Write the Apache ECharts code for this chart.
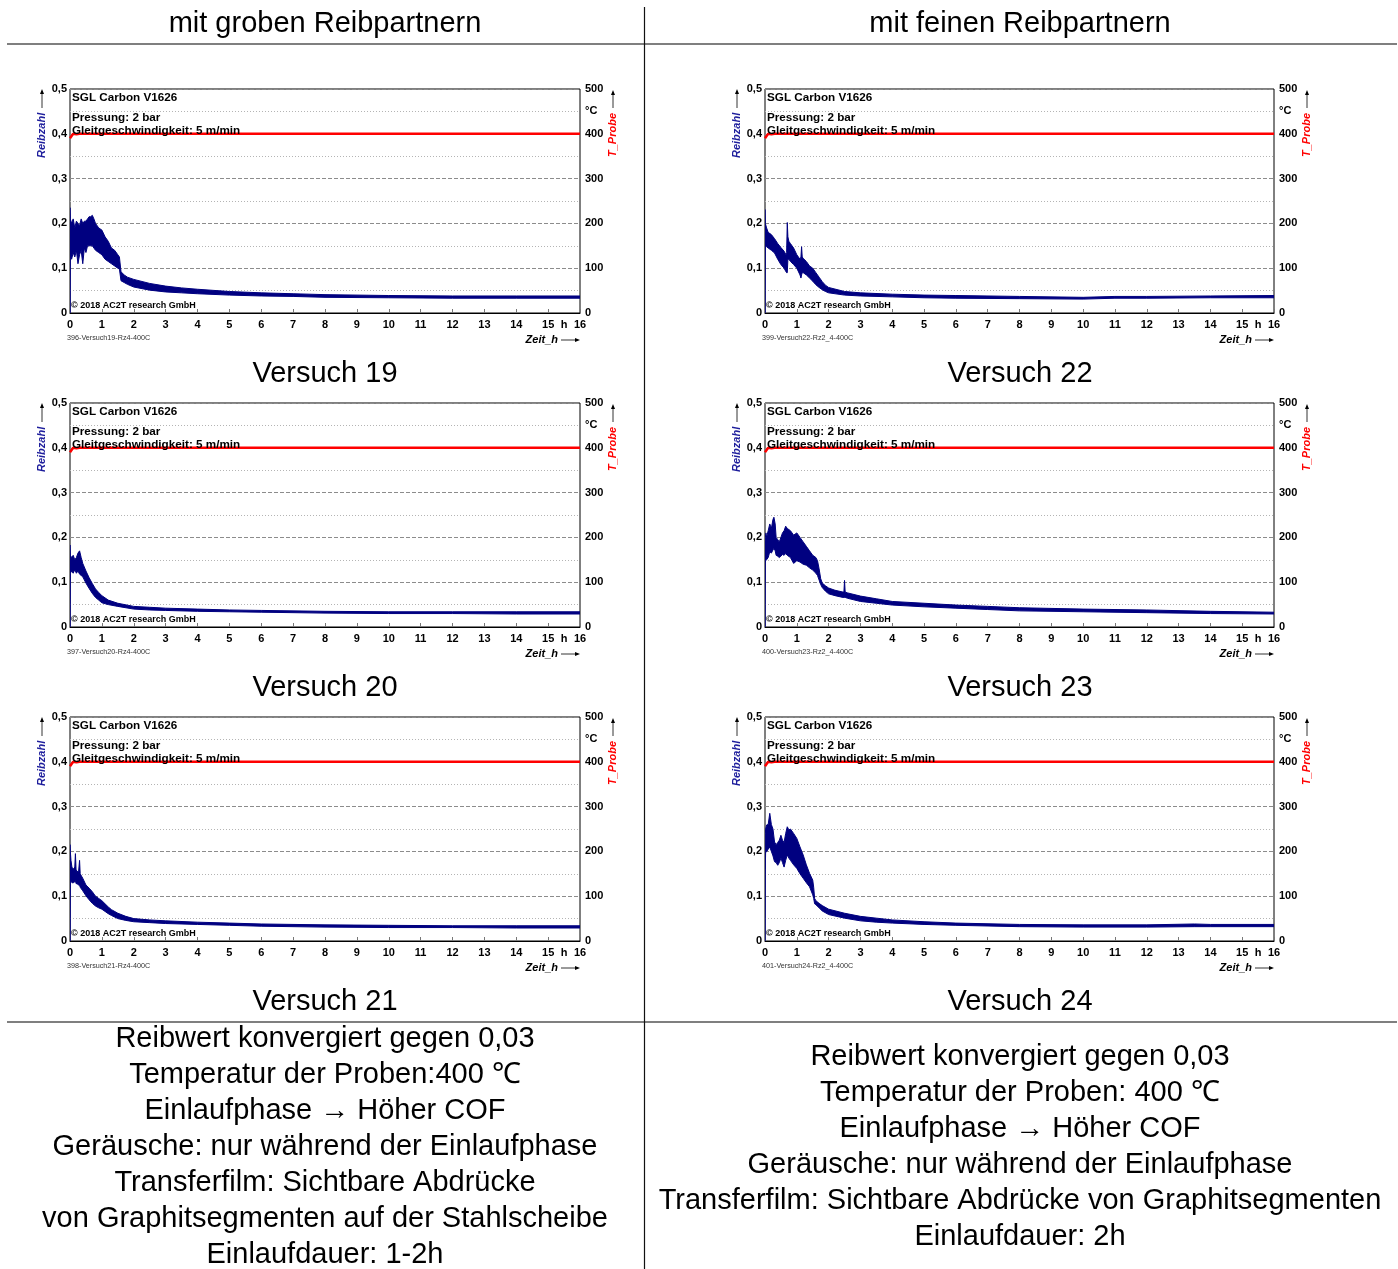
<!DOCTYPE html>
<html>
<head>
<meta charset="utf-8">
<title>Reibversuche V1626 bei 400 °C</title>
<script src="https://cdn.jsdelivr.net/npm/echarts@6/dist/echarts.min.js"></script>
<style>
  html, body { margin: 0; padding: 0; background: #fff; }
  #chart { width: 1398px; height: 1269px; }
</style>
</head>
<body>
<div id="chart"></div>
<script>
// ---- Messdaten: Reibzahl-Einhüllende (oben/unten) über Zeit in h ----
const v19_t  = [0, 0.01, 0.05, 0.1, 0.15, 0.2, 0.25, 0.3, 0.35, 0.4, 0.45, 0.5, 0.55, 0.6, 0.65, 0.7, 0.75, 0.8, 0.9, 1.0, 1.1, 1.2, 1.3, 1.4, 1.5, 1.55, 1.6, 1.7, 1.8, 2.0, 2.5, 3, 3.5, 4, 5, 6, 7, 8, 10, 12, 14, 16];
const v19_hi = [0.235, 0.21, 0.2, 0.21, 0.19, 0.205, 0.2, 0.195, 0.21, 0.2, 0.205, 0.205, 0.21, 0.215, 0.215, 0.218, 0.21, 0.2, 0.19, 0.185, 0.17, 0.16, 0.145, 0.14, 0.13, 0.125, 0.092, 0.085, 0.08, 0.075, 0.066, 0.06, 0.056, 0.053, 0.048, 0.045, 0.043, 0.041, 0.039, 0.038, 0.038, 0.038];
const v19_lo = [0, 0.13, 0.12, 0.135, 0.125, 0.14, 0.11, 0.13, 0.14, 0.11, 0.145, 0.135, 0.15, 0.15, 0.15, 0.15, 0.145, 0.14, 0.135, 0.13, 0.12, 0.115, 0.11, 0.105, 0.1, 0.098, 0.072, 0.068, 0.064, 0.058, 0.051, 0.047, 0.045, 0.043, 0.040, 0.038, 0.037, 0.035, 0.034, 0.033, 0.033, 0.033];

const v22_t  = [0, 0.01, 0.05, 0.1, 0.2, 0.3, 0.4, 0.5, 0.6, 0.66, 0.68, 0.7, 0.72, 0.75, 0.8, 0.9, 1.0, 1.1, 1.13, 1.15, 1.17, 1.2, 1.3, 1.4, 1.5, 1.6, 1.7, 1.8, 1.9, 2.0, 2.5, 3, 4, 5, 6, 8, 10, 11, 12, 14, 16];
const v22_hi = [0.231, 0.2, 0.19, 0.18, 0.175, 0.166, 0.155, 0.146, 0.138, 0.13, 0.135, 0.202, 0.17, 0.16, 0.155, 0.145, 0.13, 0.12, 0.125, 0.148, 0.125, 0.122, 0.115, 0.105, 0.1, 0.09, 0.08, 0.07, 0.062, 0.057, 0.048, 0.045, 0.042, 0.04, 0.039, 0.037, 0.035, 0.037, 0.037, 0.038, 0.039];
const v22_lo = [0, 0.15, 0.148, 0.145, 0.14, 0.134, 0.12, 0.108, 0.1, 0.092, 0.09, 0.09, 0.12, 0.12, 0.115, 0.108, 0.1, 0.085, 0.078, 0.085, 0.09, 0.09, 0.085, 0.078, 0.071, 0.063, 0.057, 0.052, 0.048, 0.045, 0.04, 0.038, 0.036, 0.034, 0.033, 0.032, 0.031, 0.033, 0.033, 0.034, 0.034];

const v20_t  = [0, 0.01, 0.05, 0.1, 0.15, 0.2, 0.25, 0.3, 0.35, 0.4, 0.5, 0.6, 0.7, 0.8, 0.9, 1.0, 1.2, 1.5, 2.0, 2.5, 3, 4, 5, 6, 8, 10, 12, 14, 16];
const v20_hi = [0.183, 0.16, 0.155, 0.16, 0.15, 0.155, 0.165, 0.17, 0.155, 0.142, 0.125, 0.11, 0.097, 0.085, 0.077, 0.07, 0.06, 0.053, 0.046, 0.044, 0.042, 0.04, 0.038, 0.037, 0.035, 0.034, 0.034, 0.034, 0.034];
const v20_lo = [0, 0.12, 0.125, 0.12, 0.128, 0.12, 0.125, 0.118, 0.115, 0.112, 0.098, 0.086, 0.075, 0.066, 0.06, 0.054, 0.05, 0.046, 0.04, 0.038, 0.037, 0.035, 0.034, 0.033, 0.031, 0.030, 0.030, 0.029, 0.029];

const v23_t  = [0, 0.01, 0.03, 0.05, 0.1, 0.15, 0.2, 0.25, 0.28, 0.32, 0.35, 0.4, 0.45, 0.5, 0.55, 0.6, 0.65, 0.7, 0.8, 0.9, 1.0, 1.1, 1.2, 1.3, 1.4, 1.5, 1.6, 1.65, 1.7, 1.75, 1.8, 1.9, 2.0, 2.2, 2.45, 2.48, 2.5, 2.52, 2.6, 3, 3.5, 4, 5, 6, 7, 8, 10, 12, 14, 16];
const v23_hi = [0.19, 0.2, 0.21, 0.2, 0.215, 0.23, 0.22, 0.24, 0.245, 0.23, 0.2, 0.195, 0.19, 0.2, 0.21, 0.215, 0.225, 0.22, 0.215, 0.205, 0.21, 0.2, 0.19, 0.18, 0.17, 0.16, 0.155, 0.148, 0.13, 0.108, 0.098, 0.092, 0.087, 0.082, 0.078, 0.078, 0.104, 0.078, 0.076, 0.069, 0.063, 0.057, 0.053, 0.049, 0.046, 0.043, 0.04, 0.038, 0.035, 0.033];
const v23_lo = [0, 0.145, 0.15, 0.15, 0.155, 0.168, 0.165, 0.172, 0.175, 0.17, 0.16, 0.158, 0.155, 0.158, 0.162, 0.16, 0.164, 0.16, 0.155, 0.142, 0.148, 0.145, 0.14, 0.138, 0.132, 0.127, 0.12, 0.115, 0.105, 0.095, 0.088, 0.08, 0.074, 0.07, 0.066, 0.066, 0.066, 0.066, 0.064, 0.057, 0.053, 0.049, 0.045, 0.042, 0.039, 0.036, 0.034, 0.032, 0.030, 0.029];

const v21_t  = [0, 0.01, 0.03, 0.06, 0.1, 0.15, 0.17, 0.19, 0.22, 0.27, 0.3, 0.32, 0.4, 0.5, 0.6, 0.7, 0.8, 0.9, 1.0, 1.1, 1.2, 1.3, 1.5, 1.75, 2.0, 2.5, 3, 4, 5, 6, 8, 10, 12, 14, 16];
const v21_hi = [0.215, 0.2, 0.18, 0.165, 0.16, 0.165, 0.195, 0.16, 0.155, 0.155, 0.18, 0.15, 0.14, 0.125, 0.118, 0.11, 0.1, 0.095, 0.09, 0.083, 0.076, 0.07, 0.062, 0.055, 0.05, 0.047, 0.045, 0.042, 0.04, 0.038, 0.036, 0.035, 0.034, 0.034, 0.034];
const v21_lo = [0, 0.13, 0.135, 0.13, 0.13, 0.132, 0.135, 0.128, 0.128, 0.125, 0.125, 0.12, 0.112, 0.101, 0.092, 0.084, 0.078, 0.074, 0.071, 0.066, 0.061, 0.057, 0.05, 0.046, 0.043, 0.041, 0.039, 0.037, 0.035, 0.033, 0.031, 0.030, 0.030, 0.029, 0.029];

const v24_t  = [0, 0.01, 0.02, 0.05, 0.1, 0.15, 0.2, 0.25, 0.3, 0.35, 0.4, 0.45, 0.5, 0.55, 0.6, 0.65, 0.7, 0.75, 0.8, 0.9, 1.0, 1.1, 1.2, 1.3, 1.4, 1.5, 1.53, 1.56, 1.6, 1.7, 1.8, 2.0, 2.5, 3, 3.5, 4, 5, 6, 8, 10, 12, 13.5, 14, 16];
const v24_hi = [0.17, 0.24, 0.25, 0.259, 0.26, 0.285, 0.26, 0.25, 0.221, 0.215, 0.22, 0.225, 0.236, 0.225, 0.22, 0.24, 0.255, 0.248, 0.25, 0.24, 0.229, 0.21, 0.192, 0.17, 0.151, 0.136, 0.12, 0.095, 0.09, 0.084, 0.079, 0.071, 0.062, 0.055, 0.051, 0.047, 0.043, 0.04, 0.037, 0.036, 0.036, 0.038, 0.037, 0.037];
const v24_lo = [0, 0.16, 0.2, 0.199, 0.205, 0.21, 0.2, 0.19, 0.177, 0.175, 0.169, 0.175, 0.185, 0.175, 0.165, 0.18, 0.192, 0.185, 0.18, 0.17, 0.162, 0.15, 0.14, 0.13, 0.121, 0.103, 0.095, 0.083, 0.081, 0.074, 0.067, 0.059, 0.051, 0.045, 0.042, 0.04, 0.037, 0.035, 0.032, 0.031, 0.031, 0.032, 0.032, 0.032];

// Probentemperatur T_Probe in °C
const temp_t   = [0, 0.05, 0.1, 0.15, 0.2, 0.25, 0.3, 16];
const temp_val = [390, 395, 400, 403, 399, 398, 400, 400];

// Achsenbeschriftungen
const xTicks = [0, 1, 2, 3, 4, 5, 6, 7, 8, 9, 10, 11, 12, 13, 14, 15, 16];
const rightTicks = [0, 100, 200, 300, 400, 450, 500];

const headers = ['mit groben Reibpartnern', 'mit feinen Reibpartnern'];
const summaryLeft = [
  'Reibwert konvergiert gegen 0,03',
  'Temperatur der Proben:400 \u2103',
  'Einlaufphase \u2192 H\u00f6her COF',
  'Ger\u00e4usche: nur w\u00e4hrend der Einlaufphase',
  'Transferfilm: Sichtbare Abdr\u00fccke',
  'von Graphitsegmenten auf der Stahlscheibe',
  'Einlaufdauer: 1-2h'
];
const summaryRight = [
  'Reibwert konvergiert gegen 0,03',
  'Temperatur der Proben: 400 \u2103',
  'Einlaufphase \u2192 H\u00f6her COF',
  'Ger\u00e4usche: nur w\u00e4hrend der Einlaufphase',
  'Transferfilm: Sichtbare Abdr\u00fccke von Graphitsegmenten',
  'Einlaufdauer: 2h'
];

const panels = [
  { title: 'Versuch 19', file: '396-Versuch19-Rz4-400C',   t: v19_t, hi: v19_hi, lo: v19_lo, col: 0, row: 0 },
  { title: 'Versuch 22', file: '399-Versuch22-Rz2_4-400C', t: v22_t, hi: v22_hi, lo: v22_lo, col: 1, row: 0 },
  { title: 'Versuch 20', file: '397-Versuch20-Rz4-400C',   t: v20_t, hi: v20_hi, lo: v20_lo, col: 0, row: 1 },
  { title: 'Versuch 23', file: '400-Versuch23-Rz2_4-400C', t: v23_t, hi: v23_hi, lo: v23_lo, col: 1, row: 1 },
  { title: 'Versuch 21', file: '398-Versuch21-Rz4-400C',   t: v21_t, hi: v21_hi, lo: v21_lo, col: 0, row: 2 },
  { title: 'Versuch 24', file: '401-Versuch24-Rz2_4-400C', t: v24_t, hi: v24_hi, lo: v24_lo, col: 1, row: 2 }
];

// ---- Layout ----
const FONT = "'Liberation Sans', Arial, Helvetica, sans-serif";
const NAVY = '#000080';
const BLUE_LABEL = '#1e1e9c';
const RED = '#ff0000';
const COL_LEFT = [70, 765];
const PLOT_W = [510, 509];
const ROW_TOP = [89, 403, 717];
const PLOT_H = 224;
const COL_CENTER = [325, 1020];
const BIG = 29;

const grids = [], xAxes = [], yAxes = [], series = [], graphics = [];

function txt(x, y, text, o) {
  o = o || {};
  const align = o.align || 'left';
  const valign = o.valign || 'middle';
  return {
    type: 'text', x: x, y: y, z: 100, rotation: o.rotation || 0, silent: true,
    style: {
      text: text,
      fill: o.color || '#000',
      fontSize: o.size || 12,
      fontWeight: o.weight || 'normal',
      fontStyle: o.style || 'normal',
      fontFamily: o.family || FONT,
      align: align, textAlign: align,
      verticalAlign: valign, textVerticalAlign: valign
    }
  };
}
function seg(x1, y1, x2, y2, color, w) {
  return { type: 'line', z: 100, silent: true, shape: { x1: x1, y1: y1, x2: x2, y2: y2 }, style: { stroke: color, lineWidth: w } };
}
function head(points, color) {
  return { type: 'polygon', z: 100, silent: true, shape: { points: points }, style: { fill: color } };
}

const commaFmt = v => (v === 0 ? '0' : v.toFixed(1).replace('.', ','));

panels.forEach((p, i) => {
  const L = COL_LEFT[p.col], W = PLOT_W[p.col], T = ROW_TOP[p.row], H = PLOT_H;
  grids.push({ left: L, top: T, width: W, height: H, show: true, borderColor: '#000', borderWidth: 1, backgroundColor: 'transparent' });

  xAxes.push({
    type: 'value', gridIndex: i, min: 0, max: 16, interval: 1,
    axisLine: { show: true, lineStyle: { color: '#000', width: 1 } },
    axisTick: { show: true, inside: true, length: 4, customValues: xTicks, lineStyle: { color: '#777' } },
    axisLabel: {
      customValues: xTicks.concat([15.5]),
      formatter: v => (v === 15.5 ? 'h' : String(v)),
      fontFamily: FONT, fontWeight: 'bold', fontSize: 11, color: '#000', margin: 6
    },
    splitLine: { show: false }
  });

  yAxes.push({
    type: 'value', gridIndex: i, position: 'left', min: 0, max: 0.5, interval: 0.1,
    axisLine: { show: false }, axisTick: { show: false },
    axisLabel: { formatter: commaFmt, fontFamily: FONT, fontWeight: 'bold', fontSize: 11, color: '#000', margin: 3 },
    splitLine: { show: true, lineStyle: { color: '#8c8c8c', type: [4, 2], width: 1 } },
    minorTick: { show: false, splitNumber: 2 },
    minorSplitLine: { show: true, lineStyle: { color: '#b4b4b4', type: [1, 2], width: 1 } }
  });
  yAxes.push({
    type: 'value', gridIndex: i, position: 'right', min: 0, max: 500, interval: 100,
    axisLine: { show: false }, axisTick: { show: false },
    axisLabel: {
      customValues: rightTicks,
      formatter: v => (v === 450 ? '\u00b0C' : String(v)),
      fontFamily: FONT, fontWeight: 'bold', fontSize: 11, color: '#000', margin: 5
    },
    splitLine: { show: false }
  });

  // Reibzahl als Band zwischen unterer und oberer Einhüllender
  series.push({
    type: 'custom', coordinateSystem: 'cartesian2d', xAxisIndex: i, yAxisIndex: 2 * i,
    data: p.t.map((x, k) => [x, p.lo[k], p.hi[k]]),
    encode: { x: 0, y: [1, 2] },
    silent: true, z: 3, clip: true,
    renderItem: (params, api) => {
      if (params.dataIndex !== 0) return null;
      const pts = [];
      for (let k = 0; k < p.t.length; k++) pts.push(api.coord([p.t[k], p.hi[k]]));
      for (let k = p.t.length - 1; k >= 0; k--) pts.push(api.coord([p.t[k], p.lo[k]]));
      return { type: 'polygon', shape: { points: pts }, style: { fill: NAVY, stroke: NAVY, lineWidth: 1 } };
    }
  });

  // Probentemperatur
  series.push({
    type: 'line', xAxisIndex: i, yAxisIndex: 2 * i + 1,
    data: temp_t.map((x, k) => [x, temp_val[k]]),
    showSymbol: false, silent: true, z: 4,
    lineStyle: { color: RED, width: 2.5 }
  });

  // Beschriftungen im Diagramm
  graphics.push(txt(L + 2, T + 9, 'SGL Carbon V1626', { size: 11.7, weight: 'bold' }));
  graphics.push(txt(L + 2, T + 29, 'Pressung: 2 bar', { size: 11.7, weight: 'bold' }));
  graphics.push(txt(L + 2, T + 42, 'Gleitgeschwindigkeit: 5 m/min', { size: 11.7, weight: 'bold' }));
  graphics.push(txt(L + 1, T + 217, '\u00a9 2018 AC2T research GmbH', { size: 9, weight: 'bold' }));
  graphics.push(txt(L - 3, T + 249, p.file, { size: 7.2, color: '#333' }));

  // Achsentitel mit Pfeilen
  const xl = L - 28;
  graphics.push(txt(xl, T + 69, 'Reibzahl', { size: 11, weight: 'bold', style: 'italic', color: BLUE_LABEL, rotation: Math.PI / 2 }));
  graphics.push(seg(xl, T + 19, xl, T + 3, '#000', 0.8));
  graphics.push(head([[xl, T], [xl - 2, T + 5], [xl + 2, T + 5]], '#000'));

  const xr = L + W + 33;
  graphics.push(txt(xr, T + 68, 'T_Probe', { size: 11, weight: 'bold', style: 'italic', color: RED, rotation: Math.PI / 2 }));
  graphics.push(seg(xr, T + 19, xr, T + 4, '#000', 0.8));
  graphics.push(head([[xr, T + 1], [xr - 2, T + 6], [xr + 2, T + 6]], '#000'));

  const yb = T + H + 27;
  graphics.push(txt(L + W - 22, yb, 'Zeit_h', { size: 11, weight: 'bold', style: 'italic', align: 'right' }));
  graphics.push(seg(L + W - 19, yb, L + W - 3, yb, '#000', 0.8));
  graphics.push(head([[L + W, yb], [L + W - 5, yb - 2], [L + W - 5, yb + 2]], '#000'));

  // Versuchsbezeichnung
  graphics.push(txt(COL_CENTER[p.col], T + 285, p.title, { size: BIG, align: 'center' }));
});

// Tabellenrahmen und Texte
graphics.push(seg(7, 44, 1397, 44, '#555', 1.6));
graphics.push(seg(7, 1022, 1397, 1022, '#555', 1.6));
graphics.push(seg(644.5, 7, 644.5, 1269, '#111', 1.2));
headers.forEach((h, c) => graphics.push(txt(COL_CENTER[c], 24, h, { size: BIG, align: 'center' })));
summaryLeft.forEach((s, k) => graphics.push(txt(COL_CENTER[0], 1039 + k * 36, s, { size: BIG, align: 'center' })));
summaryRight.forEach((s, k) => graphics.push(txt(COL_CENTER[1], 1057 + k * 36, s, { size: BIG, align: 'center' })));

const chart = echarts.init(document.getElementById('chart'), null, { renderer: 'canvas' });
chart.setOption({
  animation: false,
  backgroundColor: '#fff',
  textStyle: { fontFamily: FONT },
  grid: grids,
  xAxis: xAxes,
  yAxis: yAxes,
  series: series,
  graphic: { elements: graphics }
});
</script>
</body>
</html>
